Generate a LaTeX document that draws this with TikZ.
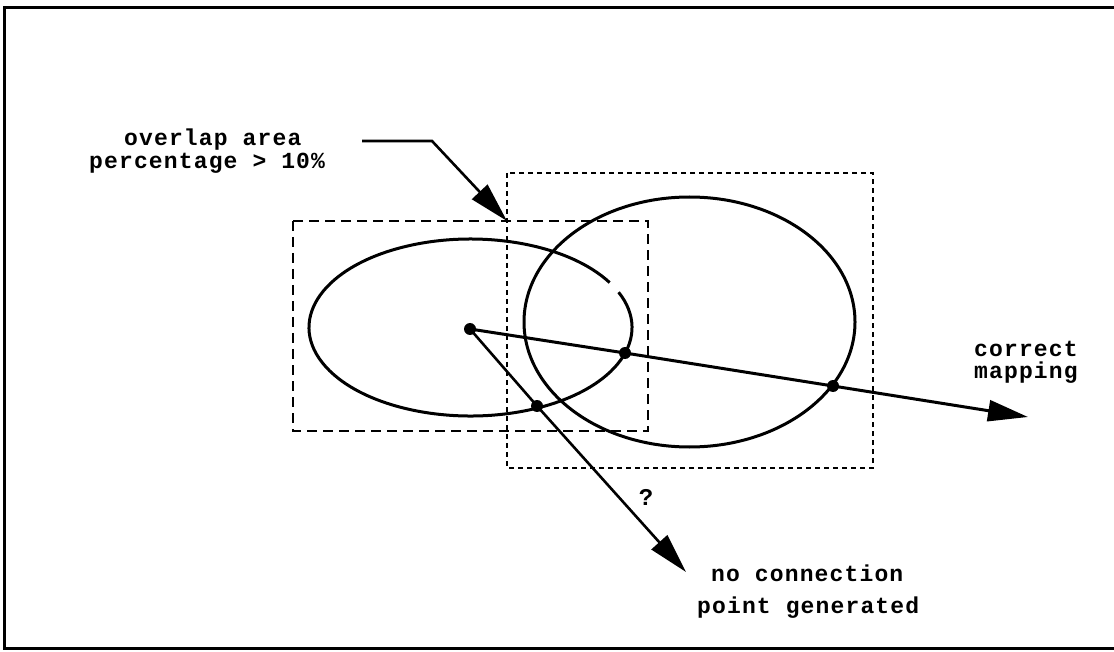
\documentclass[tikz,border=0pt]{standalone}
\usepackage{fontspec}
\newfontfamily\tw[LetterSpace=5]{Liberation Mono}
\usetikzlibrary{arrows.meta}
\tikzset{
  thick line/.style={line width=3pt},
  leftbox/.style={line width=2.4pt, dash pattern=on 10pt off 6pt},
  rightbox/.style={line width=2.4pt, dash pattern=on 5pt off 4pt},
  ptdot/.style={circle, fill=black, inner sep=0pt, minimum size=12pt},
  bigtip/.style={-{Triangle[length=40pt,width=21pt]}},
  lbl/.style={font=\tw\bfseries\fontsize{23}{23}\selectfont, anchor=base west, inner sep=0pt},
  qmark/.style={font=\tw\bfseries\fontsize{24}{24}\selectfont, inner sep=0pt}
}
\begin{document}
\begin{tikzpicture}[x=1pt,y=-1pt]
\useasboundingbox (0,0) rectangle (1114,652);
% frame
\draw[line width=3pt] (1114,8) -- (4,8) -- (4,648) -- (1114,648);
% boxes
\draw[leftbox] (293,221) rectangle (648,431);
\draw[rightbox] (507,173) rectangle (873,468);
% ellipses
\coordinate (lc) at (470.5,327.5);
\coordinate (rc) at (689.5,322);
\draw[thick line] ([shift={(-23.5:161.5 and 88.5)}]lc) arc[start angle=-23.5, end angle=329.5, x radius=161.5, y radius=88.5];
\draw[thick line] (rc) ellipse[x radius=165.5, y radius=125];
% points
\node[ptdot] (c) at (470,329) {};
\node[ptdot] (p1) at (625,353) {};
\node[ptdot] (p2) at (833,386) {};
\node[ptdot] (p3) at (537,406) {};
\coordinate (rtip) at (1028,417);
\coordinate (dtip) at (686,572);
\coordinate (os) at (362,141);
\coordinate (ob) at (432,141);
\coordinate (otip) at (507,221);
% connectors
\draw[thick line, bigtip] (c.center) -- (p1.center) -- (p2.center) -- (rtip);
\draw[line width=2.6pt, bigtip] (c.center) -- (p3.center) -- (dtip);
\draw[line width=2.6pt, bigtip] (os) -- (ob) -- (otip);
% labels
\node[lbl] (ov1) at (124,146) {overlap area};
\node[lbl] (ov2) at (89,169) {percentage > 10\%};
\node[lbl] (cm1) at (974,356) {correct};
\node[lbl] (cm2) at (974,378) {mapping};
\node[lbl] (nc1) at (711,581) {no connection};
\node[lbl] (nc2) at (697,613) {point generated};
\node[qmark] (q) at (646,497) {?};
\end{tikzpicture}
\end{document}
